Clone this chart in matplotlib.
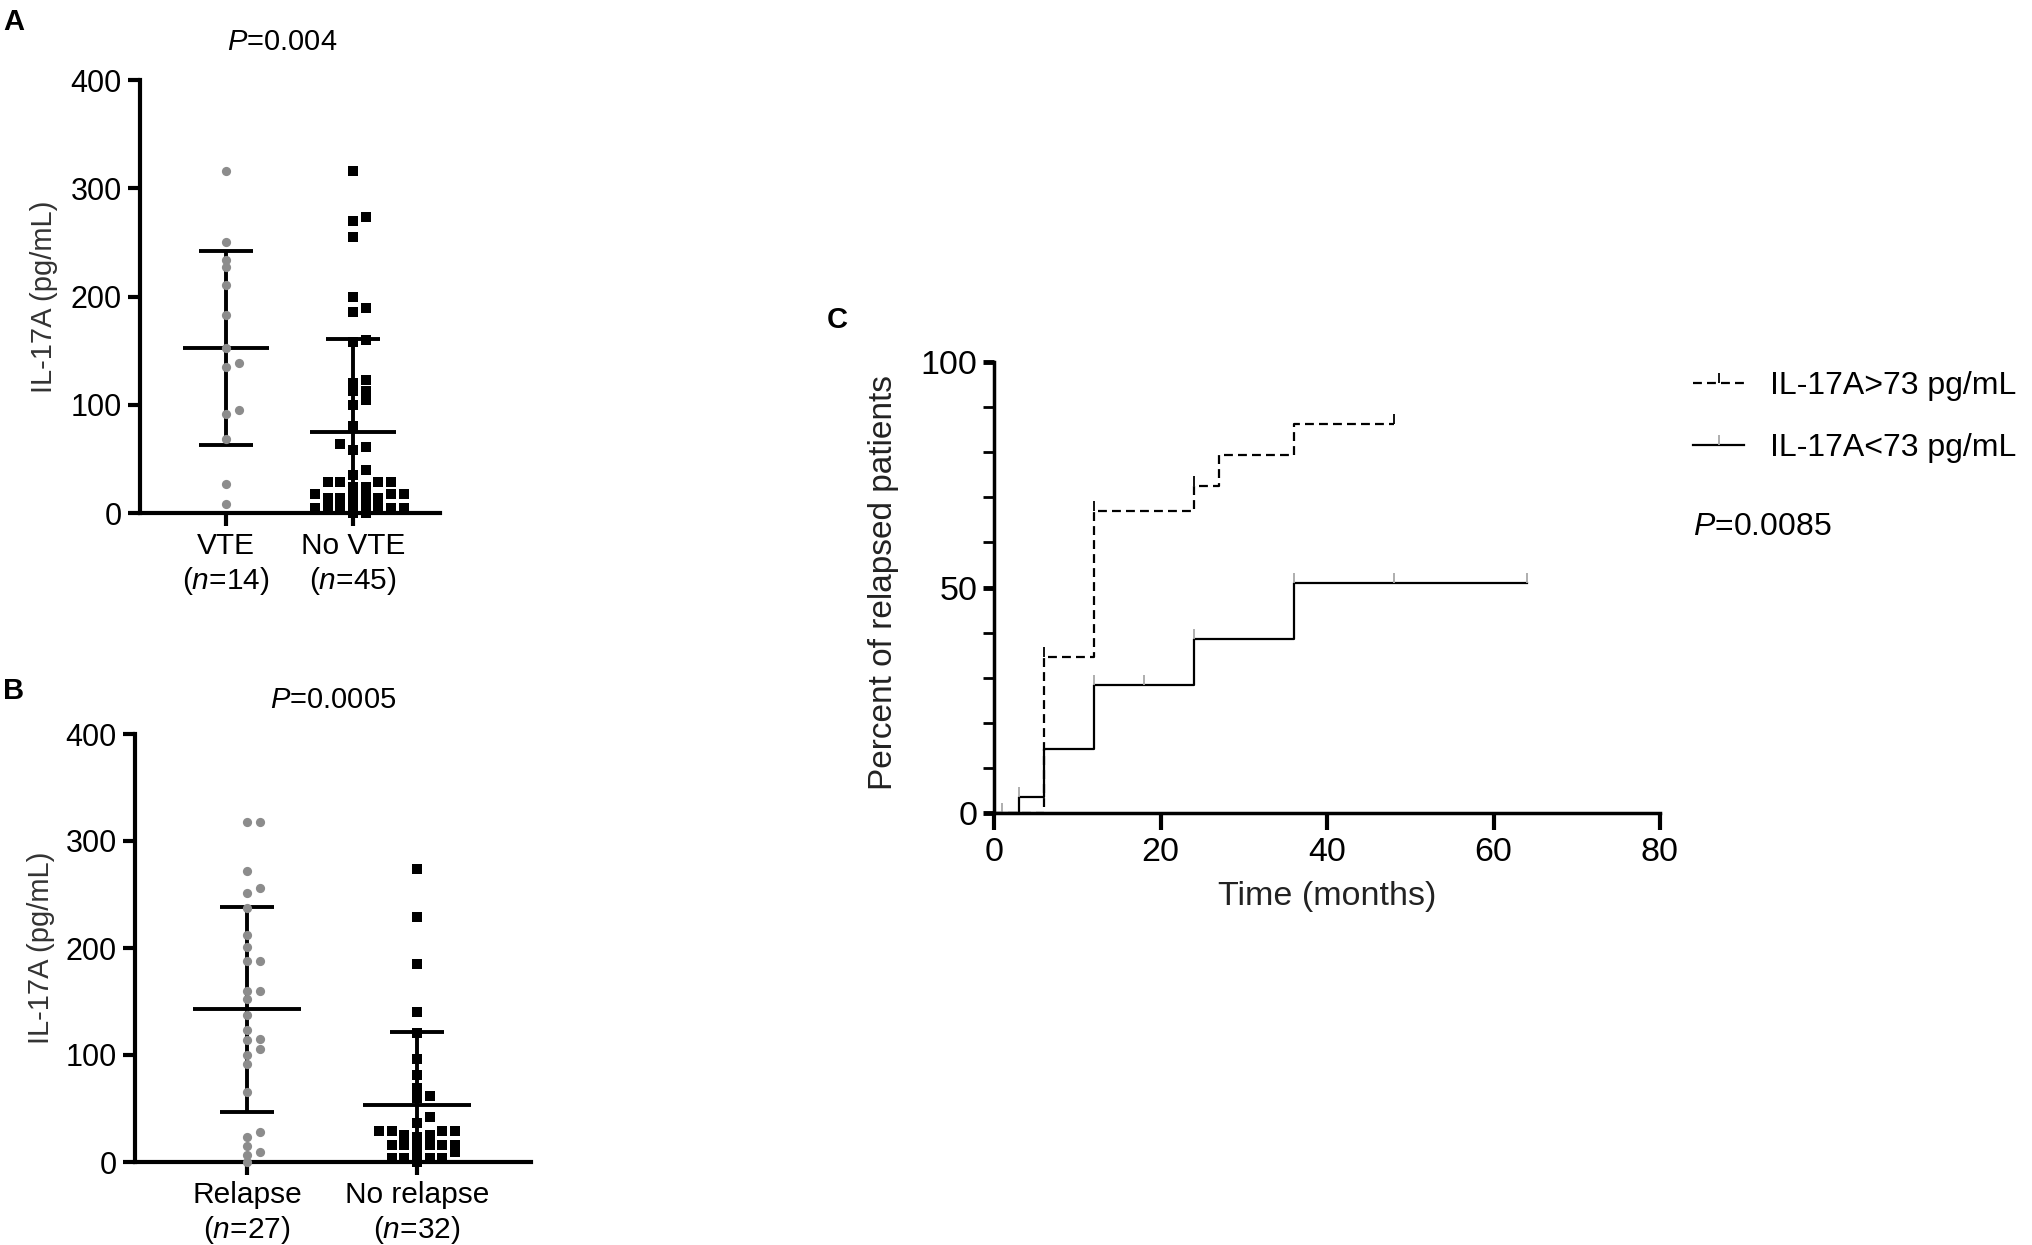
import numpy as np
import matplotlib
matplotlib.use("Agg")
import matplotlib.pyplot as plt
from matplotlib.lines import Line2D

plt.rcParams['font.family'] = ['Liberation Sans', 'DejaVu Sans']
plt.rcParams['mathtext.fontset'] = 'custom'
plt.rcParams['mathtext.rm'] = 'Liberation Sans'
plt.rcParams['mathtext.it'] = 'Liberation Sans:italic'

# Panel A: IL-17A (pg/mL) by VTE status
vte = [316, 250.5, 233.7, 227, 211, 183, 152, 139, 135, 95, 91, 68.5, 26.7, 8]
no_vte = [316, 270, 273, 255, 200, 189, 186, 160, 158, 123, 120, 113, 113,
          100, 104, 80, 64, 61, 58, 40, 35,
          28.5, 28.5, 28.5, 28.5, 23.7, 23.7, 17.5, 17.5, 17.5, 17.5, 17.5,
          13.8, 13.8, 13.8, 9.5, 9.5, 4.6, 4.6, 4.6, 4.6, 4.6, 4.6, 0, 0]
labels_a = ['VTE\n($\\mathit{n}$=14)', 'No VTE\n($\\mathit{n}$=45)']

# Panel B: IL-17A (pg/mL) by relapse status
relapse = [318, 318, 271.5, 251.6, 256, 237, 212.5, 201, 188, 188, 160, 160,
           152, 137.6, 123, 114, 115, 106, 100, 92, 65, 28, 23.5, 9, 14.5, 7, 0]
no_relapse = [274, 229, 184.6, 140, 120.5, 96.7, 81, 69, 62, 60, 42, 36, 29,
              25, 23, 29, 29, 29, 25, 16, 16, 16, 16, 16, 16, 9, 9, 4, 4, 4, 4, 0]
labels_b = ['Relapse\n($\\mathit{n}$=27)', 'No relapse\n($\\mathit{n}$=32)']

# Panel C: cumulative relapse (%)
high_t = [0, 6, 12, 24, 27, 36, 48]
high_pct = [0, 34.5, 67, 72.5, 79.4, 86.2, 86.2]
high_cens = [6, 12, 24, 48]
low_t = [0, 3, 6, 12, 24, 36, 64]
low_pct = [0, 3.6, 14.2, 28.3, 38.6, 50.9, 50.9]
low_cens = [1, 3, 12, 18, 24, 36, 48, 64]

W, H = 2033, 1245
fig = plt.figure(figsize=(W / 100, H / 100), dpi=100)


def swarm(vals, ppu_x, ppu_y, step=6.35, dx_min=11, dy_min=6.5):
    vals = np.asarray(vals, float)
    offs = np.zeros(len(vals))
    placed = []
    cands = [0.0]
    for k in range(1, 40):
        cands += [k * step, -k * step]
    for i in np.argsort(vals):
        y = vals[i] * ppu_y
        for c in cands:
            if all(abs(c - px) >= dx_min or abs(y - py) >= dy_min for px, py in placed):
                break
        placed.append((c, y))
        offs[i] = c / ppu_x
    return offs


def dot_panel(rect, groups, labels, xlim, ppu_x, mean_hw, cap_hw, ylab_x):
    ax = fig.add_axes(rect)
    ppu_y = rect[3] * H / 400
    styles = [dict(marker='o', color='#8c8c8c', s=44, zorder=3),
              dict(marker='s', color='black', s=44, zorder=3)]
    for i, vals in enumerate(groups):
        offs = swarm(vals, ppu_x, ppu_y)
        ax.scatter(i + offs, vals, linewidths=0, clip_on=False, **styles[i])
        m = np.mean(vals)
        sd = np.std(vals, ddof=1)
        ax.hlines(m, i - mean_hw, i + mean_hw, color='black', lw=2.8, zorder=2)
        ax.hlines([m - sd, m + sd], i - cap_hw, i + cap_hw, color='black', lw=2.8, zorder=2)
        ax.vlines(i, max(m - sd, 0), m + sd, color='black', lw=2.8, zorder=2)
    ax.set_xlim(*xlim)
    ax.set_ylim(0, 400)
    ax.set_yticks([0, 100, 200, 300, 400])
    ax.set_xticks([0, 1])
    ax.set_xticklabels(labels)
    for s in ['top', 'right']:
        ax.spines[s].set_visible(False)
    for s in ['left', 'bottom']:
        ax.spines[s].set_linewidth(3)
    ax.tick_params(axis='y', direction='out', length=9, width=3, labelsize=22, pad=4)
    ax.tick_params(axis='x', direction='out', length=9, width=3, labelsize=21.5, pad=5)
    ax.set_ylabel('IL-17A (pg/mL)', fontsize=21, color='#333333')
    ax.yaxis.set_label_coords(ylab_x, 0.5)
    return ax


# A
dot_panel([140 / W, 1 - 513 / H, 300 / W, 433 / H], [vte, no_vte], labels_a,
          (-0.677, 1.685), 127, 0.335, 0.21, -0.275)
fig.text(282 / W, 1 - 42 / H, '$\\mathit{P}$=0.004', ha='center', va='center', fontsize=21)
fig.text(3 / W, 1 - 8 / H, 'A', ha='left', va='top', fontsize=21, fontweight='bold')

# B
dot_panel([135 / W, 1 - 1162 / H, 396 / W, 428 / H], [relapse, no_relapse], labels_b,
          (-0.659, 1.671), 170, 0.32, 0.16, -0.202)
fig.text(333 / W, 1 - 700 / H, '$\\mathit{P}$=0.0005', ha='center', va='center', fontsize=21)
fig.text(3 / W, 1 - 677 / H, 'B', ha='left', va='top', fontsize=21, fontweight='bold')

# C
ax = fig.add_axes([994 / W, 1 - 813 / H, 666 / W, 451 / H])
dash = (0, (4, 2.3))
ax.step(high_t, high_pct, where='post', color='black', lw=1.6, ls=dash, clip_on=False)
ax.step(low_t, low_pct, where='post', color='black', lw=1.6, clip_on=False)


def level_at(t, times, pct):
    return [pct[np.searchsorted(times, x, side='right') - 1] for x in t]


ax.plot(high_cens, level_at(high_cens, high_t, high_pct), ls='none', marker=2,
        ms=7, mew=1.3, mec='black', clip_on=False)
ax.plot(low_cens, level_at(low_cens, low_t, low_pct), ls='none', marker=2,
        ms=7, mew=1.3, mec='#a8a8a8', clip_on=False)
ax.set_xlim(0, 80)
ax.set_ylim(0, 100)
ax.set_xticks([0, 20, 40, 60, 80])
ax.set_yticks([0, 50, 100])
ax.set_yticks(np.arange(0, 101, 10), minor=True)
for s in ['top', 'right']:
    ax.spines[s].set_visible(False)
for s in ['left', 'bottom']:
    ax.spines[s].set_linewidth(2.5)
ax.tick_params(axis='y', which='major', direction='out', length=8, width=3.5, labelsize=24.5, pad=4)
ax.tick_params(axis='y', which='minor', direction='out', length=8, width=2)
ax.tick_params(axis='x', direction='out', length=12, width=3, labelsize=24.5, pad=5)
ax.set_ylabel('Percent of relapsed patients', fontsize=24, color='#222222')
ax.yaxis.set_label_coords(-0.143, 0.51)
ax.set_xlabel('Time (months)', fontsize=24.5, color='#222222')
ax.xaxis.set_label_coords(0.5, -0.151)
fig.text(827 / W, 1 - 306 / H, 'C', ha='left', va='top', fontsize=21, fontweight='bold')

handles = [Line2D([0], [0], color='black', lw=1.6, ls=dash, marker=2, ms=7, mew=1.3),
           Line2D([0], [0], color='black', lw=1.6, marker=2, ms=7, mew=1.3, mec='#a8a8a8')]
ax.legend(handles, ['IL-17A>73 pg/mL', 'IL-17A<73 pg/mL'], loc='upper left',
          bbox_to_anchor=(1693 / W, 1 - 371 / H), bbox_transform=fig.transFigure,
          frameon=False, fontsize=23, handlelength=1.6, handletextpad=0.8,
          labelspacing=1.0, borderpad=0, borderaxespad=0, numpoints=1)
fig.text(1693 / W, 1 - 527 / H, '$\\mathit{P}$=0.0085', ha='left', va='center', fontsize=23)

fig.savefig('out.png', dpi=100)
